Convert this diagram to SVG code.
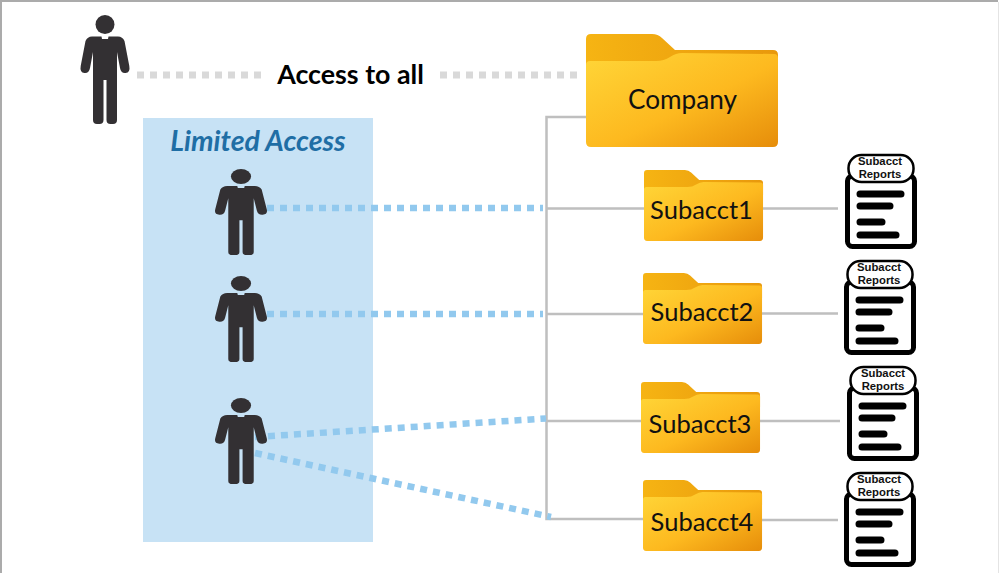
<svg xmlns="http://www.w3.org/2000/svg" width="999" height="573" viewBox="0 0 999 573">
<style>
.gray{fill:none;stroke:#bfbfbf;stroke-width:2.5}
.dg{fill:none;stroke:#d9d9d9;stroke-width:7;stroke-dasharray:7 6}
.db{fill:none;stroke:#92c9ee;stroke-width:6.500;stroke-dasharray:7 6}
.fl{font-family:Lato,"Open Sans",sans-serif;fill:#111}
.sub{font-size:25.500px;text-anchor:middle}
.rp{font-family:"Liberation Sans",Arial,sans-serif;font-weight:700;font-size:11.300px;text-anchor:middle;fill:#111}
.bar{stroke:#000;stroke-width:7;stroke-linecap:round;fill:none}
</style>
<defs>
<linearGradient id="fg" x1="0" y1="0" x2="1" y2="1"><stop offset="0" stop-color="#ffd638"/><stop offset="0.55" stop-color="#fdb91f"/><stop offset="1" stop-color="#e68d0a"/></linearGradient>
<linearGradient id="tg" x1="0" y1="0" x2="1" y2="0"><stop offset="0" stop-color="#f6b413"/><stop offset="1" stop-color="#e8980c"/></linearGradient>
<g id="person" fill="#333033">
<ellipse cx="0" cy="9.500" rx="9.500" ry="9.500"/>
<path d="M-3.500,21.500 L-13,21.500 Q-17.500,21.500 -19.500,26 L-24.300,51 Q-25.500,57.500 -20.500,58 Q-16,58.500 -15,53 L-12,37 L-12,105 Q-12,109 -8,109 L-5.500,109 Q-1.500,109 -1.500,105 L-1.500,65 L1.500,65 L1.500,105 Q1.500,109 5.500,109 L8,109 Q12,109 12,105 L12,37 L15,53 Q16,58.500 20.500,58 Q25.500,57.500 24.300,51 L19.500,26 Q17.500,21.500 13,21.500 L3.500,21.500 L3,24 L-3,24 Z"/>
</g>
<g id="folder">
<path d="M0,5 Q0,0 5,0 L66,0 Q72,0 76,4 L89,16 L187,16 Q192,16 192,21 L192,40 L0,40 Z" fill="url(#tg)"/>
<path d="M0,31 Q0,27 4,27 L70,27 Q78,27 84,23 Q90,19 96,19 L188,20 Q192,20 192,24 L192,108 Q192,113 187,113 L5,113 Q0,113 0,108 Z" fill="url(#fg)"/>
</g>
<g id="report">
<rect x="847.500" y="176" width="67" height="70.500" rx="5" fill="#fff" stroke="#000" stroke-width="5"/>
<rect x="848.500" y="155" width="65" height="27" rx="13" fill="#fff" stroke="#000" stroke-width="2.500"/>
<path class="bar" d="M860,194H901M860,206H890M860,222H882M860,235H896"/>
</g>
</defs>
<rect width="999" height="573" fill="#fff"/>
<path d="M1,573V1H998" fill="none" stroke="#ababab" stroke-width="2"/>
<path d="M998.500,2V573" fill="none" stroke="#e4e4e4" stroke-width="1"/>
<rect id="limited-area" x="143" y="118" width="230" height="424" fill="#c7e2f5"/>
<g id="connectors">
<path class="gray" d="M586,117H546.500V519H643M546.500,208.500H644M546.500,314H643M546.500,421H641M763,208.500H838M762,313.500H838M760,421H840M762,520H838"/>
<path class="dg" d="M137,75H263M440,75H582"/>
<path class="db" d="M267,208H543M267,314H543M255,437L546,418.500M255,453L551,517"/>
</g>
<g id="admin"><use href="#person" transform="translate(105,15)"/></g>
<text id="access-label" x="350.500" y="84" text-anchor="middle" font-family="Lato,sans-serif" font-weight="700" font-size="26.800" fill="#000">Access to all</text>
<text id="limited-label" x="258" y="151" text-anchor="middle" font-family="Lato,sans-serif" font-weight="700" font-style="italic" font-size="28.500" fill="#1f6ea5">Limited Access</text>
<g id="user1"><use href="#person" transform="translate(241,169) scale(1.060,0.790)"/></g>
<g id="user2"><use href="#person" transform="translate(241,276) scale(1.060,0.790)"/></g>
<g id="user3"><use href="#person" transform="translate(241,398) scale(1.060,0.790)"/></g>
<g id="company"><use href="#folder" transform="translate(586,34)"/><text class="fl" x="682.500" y="109" font-size="26.200" text-anchor="middle">Company</text></g>
<g id="subacct1"><use href="#folder" transform="translate(644,170) scale(0.620,0.628)"/><text class="fl sub" x="701.500" y="219">Subacct1</text></g>
<g id="subacct2"><use href="#folder" transform="translate(643,273) scale(0.620,0.628)"/><text class="fl sub" x="702" y="321">Subacct2</text></g>
<g id="subacct3"><use href="#folder" transform="translate(641,382) scale(0.620,0.628)"/><text class="fl sub" x="700" y="433">Subacct3</text></g>
<g id="subacct4"><use href="#folder" transform="translate(643,480) scale(0.620,0.628)"/><text class="fl sub" x="702" y="531">Subacct4</text></g>
<g id="report1"><use href="#report"/><text class="rp" x="880" y="165">Subacct</text><text class="rp" x="880" y="178">Reports</text></g>
<g id="report2"><use href="#report" x="-1" y="106"/><text class="rp" x="879" y="271">Subacct</text><text class="rp" x="879" y="284">Reports</text></g>
<g id="report3"><use href="#report" x="2" y="212"/><text class="rp" x="883" y="377">Subacct</text><text class="rp" x="883" y="390">Reports</text></g>
<g id="report4"><use href="#report" x="-1" y="318"/><text class="rp" x="879" y="483">Subacct</text><text class="rp" x="879" y="496">Reports</text></g>
</svg>
